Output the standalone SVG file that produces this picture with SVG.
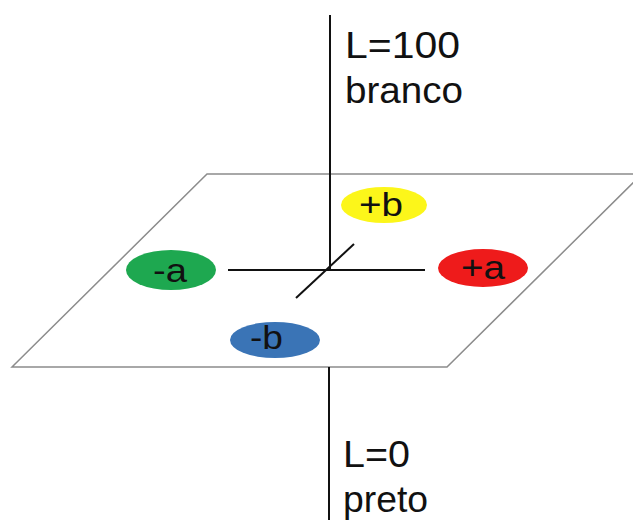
<svg xmlns="http://www.w3.org/2000/svg" width="633" height="520" viewBox="0 0 633 520">
<style>
.plane{fill:none;stroke:#8c8c8c;stroke-width:1.5}
.axis{stroke:#111;stroke-width:2;fill:none}
.lbl{font-family:"Liberation Sans",Arial,sans-serif;fill:#111}
.big{font-size:37px}
.sm{font-size:33px}
</style>
<rect width="633" height="520" fill="#fff"/>
<g id="plane">
<polygon class="plane" points="12,367 207,174 642,174 447,367"/>
</g>
<g id="connectors">
<line class="axis" x1="330" y1="15" x2="330" y2="271"/>
<line class="axis" x1="329" y1="367" x2="329" y2="520"/>
<line class="axis" x1="228" y1="270" x2="425" y2="270"/>
<line class="axis" x1="296" y1="298" x2="354" y2="244"/>
</g>
<g id="node-top">
<text class="lbl big" x="345" y="58" textLength="115" lengthAdjust="spacingAndGlyphs">L=100</text>
<text class="lbl big" x="345" y="103" textLength="118" lengthAdjust="spacingAndGlyphs">branco</text>
</g>
<g id="node-bottom">
<text class="lbl big" x="343" y="467" textLength="67" lengthAdjust="spacingAndGlyphs">L=0</text>
<text class="lbl big" x="343" y="512" textLength="85" lengthAdjust="spacingAndGlyphs">preto</text>
</g>
<g id="node-minus-a">
<ellipse cx="171" cy="270" rx="45" ry="20" fill="#1ea850"/>
<text class="lbl sm" x="153" y="282" textLength="34" lengthAdjust="spacingAndGlyphs">-a</text>
</g>
<g id="node-plus-a">
<ellipse cx="483" cy="268" rx="45" ry="19" fill="#ee1b1b"/>
<text class="lbl sm" x="461" y="279" textLength="44" lengthAdjust="spacingAndGlyphs">+a</text>
</g>
<g id="node-plus-b">
<ellipse cx="384" cy="205" rx="43" ry="18" fill="#fcf61a"/>
<text class="lbl sm" x="359" y="216" textLength="44" lengthAdjust="spacingAndGlyphs">+b</text>
</g>
<g id="node-minus-b">
<ellipse cx="275" cy="340" rx="45" ry="18" fill="#3a74b6"/>
<text class="lbl sm" x="250" y="349" textLength="33" lengthAdjust="spacingAndGlyphs">-b</text>
</g>
</svg>
